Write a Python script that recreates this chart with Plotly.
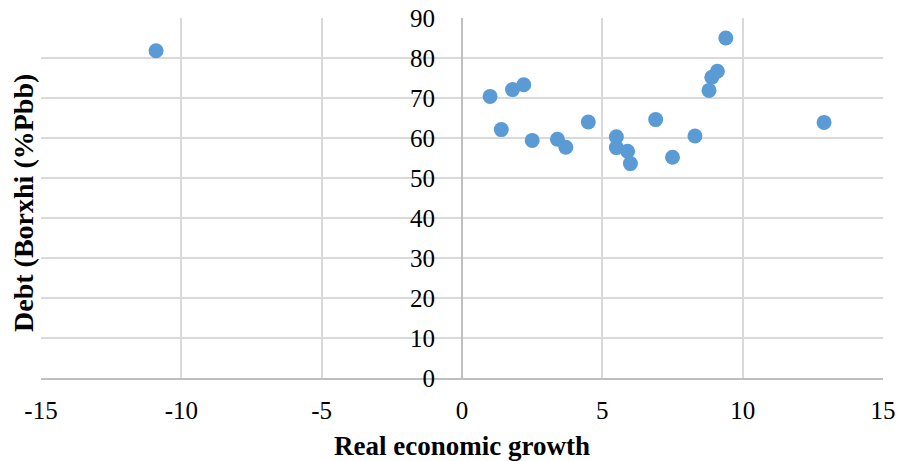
import plotly.graph_objects as go

# Real GDP growth (%) and public debt (% of GDP)
growth = [-10.9, 1.0, 1.4, 1.8, 2.2, 2.5, 3.4, 3.7, 4.5, 5.5, 5.5, 5.9, 6.0,
          6.9, 7.5, 8.3, 8.8, 8.9, 9.1, 9.4, 12.9]
debt = [81.8, 70.4, 62.1, 72.1, 73.3, 59.4, 59.7, 57.7, 64.0, 60.3, 57.6, 56.7,
        53.6, 64.6, 55.2, 60.5, 71.9, 75.2, 76.7, 85.0, 63.9]

x_ticks = [-15, -10, -5, 0, 5, 10, 15]
y_ticks = [0, 10, 20, 30, 40, 50, 60, 70, 80, 90]

FONT = "Liberation Serif"
GRID = "#D9D9D9"
AXIS = "#BFBFBF"

fig = go.Figure(
    go.Scatter(
        x=growth,
        y=debt,
        mode="markers",
        marker=dict(color="#5B9BD5", size=15, line=dict(width=0)),
        hoverinfo="x+y",
    )
)

fig.update_layout(
    width=899,
    height=461,
    margin=dict(l=41, r=16, t=18, b=83),
    paper_bgcolor="white",
    plot_bgcolor="white",
    showlegend=False,
    font=dict(family=FONT, color="#000000", size=24),
    xaxis=dict(
        range=[-15, 15],
        tickvals=x_ticks,
        ticktext=[str(v) for v in x_ticks],
        automargin=False,
        showgrid=True,
        gridcolor=GRID,
        gridwidth=2,
        zeroline=False,
        showline=True,
        linecolor=AXIS,
        linewidth=2,
        ticks="",
        ticklabelstandoff=9,
        tickfont=dict(family=FONT, size=25),
        title=dict(
            text="<b>Real economic growth</b>",
            font=dict(family=FONT, size=27),
            standoff=14,
        ),
    ),
    yaxis=dict(
        range=[0, 90],
        tickvals=y_ticks,
        ticktext=[str(v) for v in y_ticks],
        automargin=False,
        showgrid=True,
        gridcolor=GRID,
        gridwidth=2,
        zeroline=False,
        showline=True,
        linecolor=AXIS,
        linewidth=2,
        ticks="",
        anchor="free",
        position=0.5,
        ticklabelstandoff=21,
        tickfont=dict(family=FONT, size=25),
    ),
    annotations=[
        dict(
            text="<b>Debt (Borxhi (%Pbb)</b>",
            xref="paper",
            yref="paper",
            x=-0.0215,
            y=0.486,
            xanchor="center",
            yanchor="middle",
            textangle=-90,
            showarrow=False,
            font=dict(family=FONT, size=28, color="#000000"),
        )
    ],
)

fig.write_html("out.html")
